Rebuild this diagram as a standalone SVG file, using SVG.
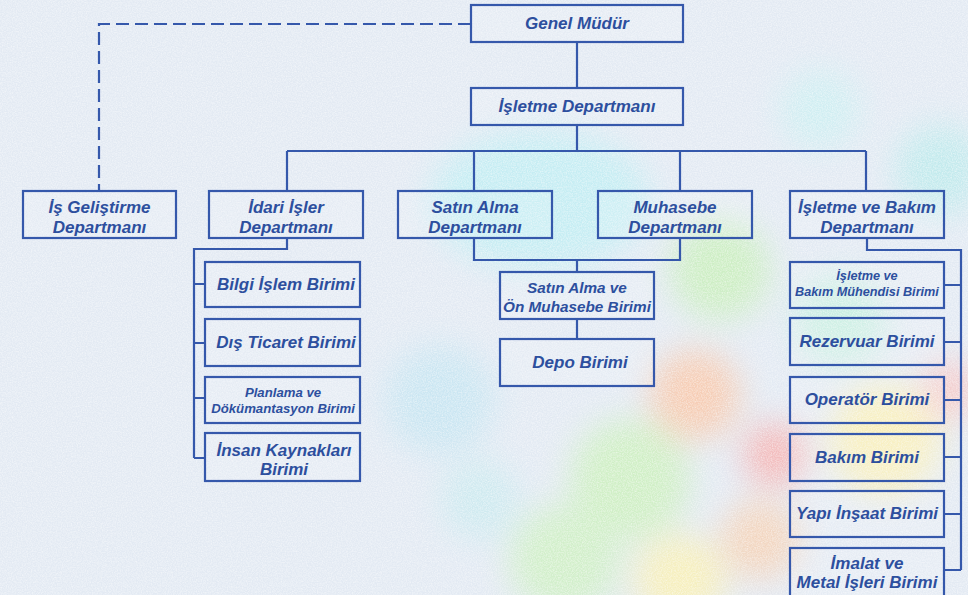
<svg xmlns="http://www.w3.org/2000/svg" width="968" height="595" viewBox="0 0 968 595">
<defs>
<style>
.box{fill:#ffffff;fill-opacity:0.12;stroke:#3558ab;stroke-width:2.2}
.ln{fill:none;stroke:#3558ab;stroke-width:2.2}
.dash{fill:none;stroke:#3558ab;stroke-width:2.2;stroke-dasharray:13 6}
text{font-family:"Liberation Sans",Arial,sans-serif;font-weight:bold;font-style:italic;fill:#2d4f9e;text-anchor:middle;font-size:17px}
.sm{font-size:12.7px}
.md{font-size:13.2px}
.m15{font-size:15.3px}
</style>
<filter id="blur" x="-50%" y="-50%" width="200%" height="200%"><feGaussianBlur stdDeviation="16"/></filter>
<filter id="tex" x="0" y="0" width="100%" height="100%">
<feTurbulence type="fractalNoise" baseFrequency="0.8" numOctaves="2" seed="3" result="n"/>
<feColorMatrix in="n" type="matrix" values="0 0 0 0 1  0 0 0 0 1  0 0 0 0 1  0 0 0 -1.8 1.2"/>
</filter>
</defs>
<rect width="968" height="595" fill="#e3eaf3"/>
<g id="bokeh" filter="url(#blur)">
<ellipse cx="540" cy="200" rx="110" ry="70" fill="#c6edf3"/>
<circle cx="440" cy="400" r="55" fill="#cbe6f2"/>
<circle cx="720" cy="270" r="50" fill="#cdeec4"/>
<circle cx="840" cy="320" r="45" fill="#c9eee2"/>
<circle cx="695" cy="395" r="45" fill="#f6cdb5"/>
<circle cx="775" cy="455" r="32" fill="#f4b8b8"/>
<circle cx="885" cy="440" r="55" fill="#f7eebb"/>
<circle cx="630" cy="480" r="60" fill="#d0efc6"/>
<circle cx="565" cy="560" r="55" fill="#d2efca"/>
<circle cx="680" cy="580" r="45" fill="#f6efbe"/>
<circle cx="940" cy="170" r="45" fill="#c3eaed"/>
<circle cx="820" cy="110" r="40" fill="#d0eef2"/>
<circle cx="950" cy="390" r="30" fill="#f4cccc"/>
<circle cx="760" cy="540" r="40" fill="#f3d6c0"/>
<circle cx="480" cy="500" r="40" fill="#cfeaf0"/>
</g>
<rect width="968" height="595" filter="url(#tex)" opacity="0.5"/>
<g id="connectors">
<path class="ln" d="M577 42V88M577 125V151M287 151H866M287 151V191M474 151V191M680 151V191M866 151V191"/>
<path class="dash" d="M471 24H99V191"/>
<path class="ln" d="M287 238V249H194V458M194 284H205M194 343H205M194 398H205M194 458H205"/>
<path class="ln" d="M474 238V260H680V238M577 260V272M577 319V339"/>
<path class="ln" d="M867 238V250H961V570M944 285H961M944 342H961M944 400H961M944 457H961M944 514H961M944 570H961"/>
</g>
<g id="genel"><rect class="box" x="471" y="5" width="212" height="37"/><text x="577" y="29">Genel Müdür</text></g>
<g id="isletme"><rect class="box" x="471" y="88" width="212" height="37"/><text x="577" y="112">İşletme Departmanı</text></g>
<g id="isgelistirme"><rect class="box" x="23" y="191" width="153" height="47"/><text x="99.5" y="213">İş Geliştirme</text><text x="99.5" y="233">Departmanı</text></g>
<g id="idari"><rect class="box" x="209" y="191" width="154" height="47"/><text x="286" y="213">İdari İşler</text><text x="286" y="233">Departmanı</text></g>
<g id="satinalma"><rect class="box" x="398" y="191" width="154" height="47"/><text x="475" y="213">Satın Alma</text><text x="475" y="233">Departmanı</text></g>
<g id="muhasebe"><rect class="box" x="598" y="191" width="154" height="47"/><text x="675" y="213">Muhasebe</text><text x="675" y="233">Departmanı</text></g>
<g id="bakimdep"><rect class="box" x="790" y="191" width="154" height="47"/><text x="867" y="213">İşletme ve Bakım</text><text x="867" y="233">Departmanı</text></g>
<g id="bilgi"><rect class="box" x="205" y="262" width="155" height="45"/><text x="286" y="290">Bilgi İşlem Birimi</text></g>
<g id="dis"><rect class="box" x="205" y="319" width="155" height="47"/><text x="286" y="348">Dış Ticaret Birimi</text></g>
<g id="planlama"><rect class="box" x="205" y="377" width="155" height="46"/><text class="md" x="283" y="397">Planlama ve</text><text class="md" x="283" y="413">Dökümantasyon Birimi</text></g>
<g id="insan"><rect class="box" x="205" y="433" width="155" height="48"/><text x="284" y="456">İnsan Kaynakları</text><text x="284" y="475">Birimi</text></g>
<g id="satinve"><rect class="box" x="500" y="272" width="154" height="47"/><text class="m15" x="577" y="293">Satın Alma ve</text><text class="m15" x="577" y="312">Ön Muhasebe Birimi</text></g>
<g id="depo"><rect class="box" x="500" y="339" width="154" height="47"/><text x="580" y="368">Depo Birimi</text></g>
<g id="muhendis"><rect class="box" x="790" y="262" width="154" height="46"/><text class="sm" x="867" y="280">İşletme ve</text><text class="sm" x="867" y="296">Bakım Mühendisi Birimi</text></g>
<g id="rezervuar"><rect class="box" x="790" y="318" width="154" height="47"/><text x="867" y="347">Rezervuar Birimi</text></g>
<g id="operator"><rect class="box" x="790" y="377" width="154" height="46"/><text x="867" y="405">Operatör Birimi</text></g>
<g id="bakim"><rect class="box" x="790" y="434" width="154" height="47"/><text x="867" y="463">Bakım Birimi</text></g>
<g id="yapi"><rect class="box" x="790" y="491" width="154" height="46"/><text x="867" y="519">Yapı İnşaat Birimi</text></g>
<g id="imalat"><rect class="box" x="790" y="548" width="154" height="60"/><text x="867" y="569">İmalat ve</text><text x="867" y="588">Metal İşleri Birimi</text></g>
</svg>
